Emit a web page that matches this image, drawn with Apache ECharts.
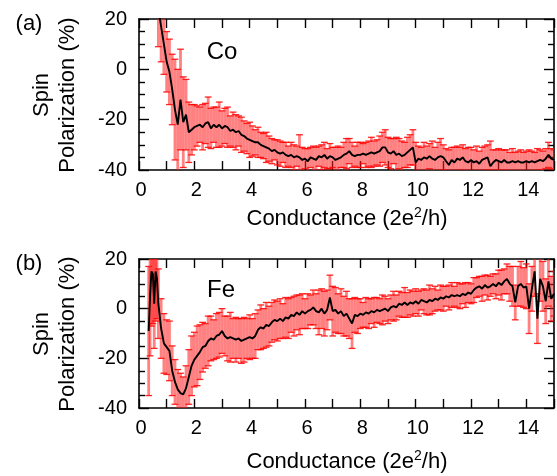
<!DOCTYPE html>
<html>
<head>
<meta charset="utf-8">
<script src="https://cdn.jsdelivr.net/npm/echarts@6/dist/echarts.min.js"></script>
<style>html,body{margin:0;padding:0;background:#fff}#c{width:557px;height:476px}</style>
</head>
<body>
<div id="c"></div>
<script>
// ---- Panel (a) Co ----
const coX = [
0.7,0.8,0.9,1.0,1.1,1.2,1.3,1.4,1.5,1.6,
1.7,1.8,1.9,2.0,2.1,2.2,2.3,2.4,2.5,2.6,
2.7,2.8,2.9,3.0,3.1,3.2,3.3,3.4,3.5,3.6,
3.7,3.8,3.9,4.0,4.1,4.2,4.3,4.4,4.5,4.6,
4.7,4.8,4.9,5.0,5.1,5.2,5.3,5.4,5.5,5.6,
5.7,5.8,5.9,6.0,6.1,6.2,6.3,6.4,6.5,6.6,
6.7,6.8,6.9,7.0,7.1,7.2,7.3,7.4,7.5,7.6,
7.7,7.8,7.9,8.0,8.1,8.2,8.3,8.4,8.5,8.6,
8.7,8.8,8.9,9.0,9.1,9.2,9.3,9.4,9.5,9.6,
9.7,9.8,9.9,10.0,10.1,10.2,10.3,10.4,10.5,10.6,
10.7,10.8,10.9,11.0,11.1,11.2,11.3,11.4,11.5,11.6,
11.7,11.8,11.9,12.0,12.1,12.2,12.3,12.4,12.5,12.6,
12.7,12.8,12.9,13.0,13.1,13.2,13.3,13.4,13.5,13.6,
13.7,13.8,13.9,14.0,14.1,14.2,14.3,14.4,14.5,14.6,
14.7,14.8,14.9,15.0];
const coPol = [
24,17,10,3,-1,-8,-16,-22,-12,-21,
-18,-25,-24,-23,-22.5,-22,-23,-21.5,-21,-23.5,
-22,-23,-22,-23.5,-22.5,-23,-24.5,-24,-25,-24.5,
-26,-26.5,-27.5,-28,-28.5,-29,-29,-30,-30.5,-31,
-31.5,-32.5,-32,-33,-33.5,-33,-34,-34.5,-34,-35,
-34.5,-35,-36,-35.5,-36.5,-35,-35.5,-36,-34.5,-35,
-34,-35.5,-34.5,-35,-36,-35.5,-35,-34,-33.5,-32.5,
-34,-34.5,-34,-34,-33.5,-34,-33.5,-33,-33.5,-33,
-32.5,-31,-31,-33,-33.5,-32.5,-34,-33.5,-34.5,-34,
-33,-32,-31,-37,-35.5,-36,-35,-35.5,-34.5,-35.5,
-36,-35,-34.5,-35,-36.5,-38,-36,-37,-35.5,-36,
-35,-36.5,-37,-36,-37,-36.5,-37.5,-36,-35.5,-35,
-38.5,-37,-36,-36.5,-37,-36,-37,-37,-36.5,-37,
-36.5,-37,-37,-36.5,-37,-36.5,-37,-36.5,-36,-36.5,
-35.5,-34,-35.5,-36];
const coErr = [
15,14,12,12,13,14,20,22,20,18,
14,12,10,9,8,7,9,8,10,8,
7,8,9,7,7,8,6,7,7,6,
7,6,6,7,6,5,6,5,5,6,
5,5,4,5,5,4,5,4,5,5,
4,9,5,4,5,4,5,5,4,5,
5,4,5,4,5,5,4,5,6,5,
5,4,5,5,4,5,5,6,5,5,
6,6,7,6,6,5,7,6,6,5,
6,6,7,8,5,5,6,5,5,7,
5,6,7,5,5,6,5,6,5,5,
5,5,6,5,5,6,5,5,5,5,
10,5,4,5,5,4,5,4,5,4,
4,5,4,4,5,4,4,5,4,4,
4,5,4,4];

// ---- Panel (b) Fe ----
const feX = [
0.35,0.4,0.45,0.5,0.55,0.6,0.65,0.7,0.8,0.9,
1.0,1.1,1.2,1.3,1.4,1.5,1.6,1.7,1.8,1.9,
2.0,2.1,2.2,2.3,2.4,2.5,2.6,2.7,2.8,2.9,
3.0,3.1,3.2,3.3,3.4,3.5,3.6,3.7,3.8,3.9,
4.0,4.1,4.2,4.3,4.4,4.5,4.6,4.7,4.8,4.9,
5.0,5.1,5.2,5.3,5.4,5.5,5.6,5.7,5.8,5.9,
6.0,6.1,6.2,6.3,6.4,6.5,6.6,6.7,6.8,6.9,
7.0,7.1,7.2,7.3,7.4,7.5,7.6,7.7,7.8,7.9,
8.0,8.1,8.2,8.3,8.4,8.5,8.6,8.7,8.8,8.9,
9.0,9.1,9.2,9.3,9.4,9.5,9.6,9.7,9.8,9.9,
10.0,10.1,10.2,10.3,10.4,10.5,10.6,10.7,10.8,10.9,
11.0,11.1,11.2,11.3,11.4,11.5,11.6,11.7,11.8,11.9,
12.0,12.1,12.2,12.3,12.4,12.5,12.6,12.7,12.8,12.9,
13.0,13.1,13.2,13.3,13.4,13.5,13.6,13.7,13.8,13.9,
14.0,14.1,14.2,14.3,14.4,14.5,14.6,14.7,14.8,14.9,
15.0];
const fePol = [
-9,5,15,14,2,15,12,2,-8,-14,
-15.5,-17,-25,-29.5,-32.5,-34,-34.5,-32,-27.5,-23,
-20.5,-19,-17.5,-15.5,-15,-13,-12,-12.5,-11,-10.5,
-9,-11,-12,-11.5,-12,-12.5,-12,-13,-12.5,-12,
-11.5,-12,-11,-8.5,-7.5,-8,-6.5,-7,-5.5,-4.5,
-5,-4,-5,-3.5,-4,-2.5,-3,-1.5,-2.5,-1,
-2,-1,-0.5,0.5,-1,-1.5,0,-2,-0.5,4.5,
-1,-0.5,-2,-1,-3,-2,-4,-6,-2.5,-3,
-2,-2.5,-1.5,-2,-1,-1.5,-0.5,-1,-0.5,0,
-1,0.5,1,0.5,2,1.5,2.5,1.5,2.5,2,
3,2,3.5,3,2.5,3.5,3,4,3.5,4.5,
4,5,4.5,5.5,5,5.5,5,6,5.5,6.5,
6,7.5,8.5,9,8,9.5,8.5,9,10,9,
10.5,9.5,11,12,10,9,2.5,9,10,8.5,
9,0,8,15,-4,12,9,3,11,4,
6];
const feErr = [
26,24,22,20,18,20,16,14,12,12,
11,12,10,9,8,8,7,9,11,12,
11,12,11,10,9,10,9,8,9,9,
9,8,9,10,8,9,8,9,9,8,
9,8,9,8,9,8,9,8,8,8,
8,8,7,8,8,7,8,7,8,7,
6,7,6,7,7,9,8,9,8,9,
10,9,8,9,8,9,8,10,7,7,
6,5,6,6,5,6,5,5,6,5,
5,5,6,5,5,5,6,5,5,5,
5,5,4,5,5,6,5,5,4,5,
5,4,5,5,4,5,5,4,5,4,
4,5,4,4,5,4,5,4,4,5,
5,6,5,6,7,8,7,8,9,8,
9,10,9,10,10,9,10,9,10,9,
9];

const xTicks = {min: 0, max: 15, interval: 1};
const yTicks = {min: -40, max: 20, interval: 20};

const FONT = '"Liberation Sans", Arial, Helvetica, sans-serif';
const chart = echarts.init(document.getElementById('c'), null, {renderer: 'canvas'});

function xAxisDef(gi, pos) {
  return {
    gridIndex: gi, type: 'value', position: pos,
    min: xTicks.min, max: xTicks.max, interval: xTicks.interval,
    axisLine: {show: true, onZero: false, lineStyle: {color: '#000', width: 1.6}},
    axisTick: {show: true, inside: true, length: 9, lineStyle: {color: '#000', width: 1.4}},
    axisLabel: {show: pos === 'bottom', fontSize: 20, color: '#000', fontFamily: FONT, margin: 10,
      padding: [0, 0, 0, 4],
      formatter: v => (v % 2 === 0 && v < 15) ? String(v) : ''},
    splitLine: {show: false}
  };
}
function yAxisDef(gi, pos) {
  return {
    gridIndex: gi, type: 'value', position: pos,
    min: yTicks.min, max: yTicks.max, interval: yTicks.interval,
    axisLine: {show: true, onZero: false, lineStyle: {color: '#000', width: 1.6}},
    axisTick: {show: true, inside: true, length: 10, lineStyle: {color: '#000', width: 1.4}},
    minorTick: {show: true, splitNumber: 4, length: 6, lineStyle: {color: '#000', width: 1.4}},
    axisLabel: {show: pos === 'left', fontSize: 20, color: '#000', fontFamily: FONT, margin: 12},
    splitLine: {show: false}, minorSplitLine: {show: false}
  };
}

function errData(xs, ys, es) {
  return xs.map((x, i) => [x, ys[i] - es[i], ys[i] + es[i]]);
}
function lineData(xs, ys) {
  return xs.map((x, i) => [x, ys[i]]);
}
function renderErr(params, api) {
  const x = api.value(0);
  const lo = api.coord([x, api.value(1)]);
  const hi = api.coord([x, api.value(2)]);
  const w = 3.4;
  return {
    type: 'group',
    children: [
      {type: 'line', shape: {x1: lo[0], y1: lo[1], x2: hi[0], y2: hi[1]},
        style: {stroke: 'rgba(255,25,25,0.55)', lineWidth: 2.8}},
      {type: 'line', shape: {x1: lo[0] - w, y1: lo[1], x2: lo[0] + w, y2: lo[1]},
        style: {stroke: 'rgba(255,0,0,0.85)', lineWidth: 1.3}},
      {type: 'line', shape: {x1: hi[0] - w, y1: hi[1], x2: hi[0] + w, y2: hi[1]},
        style: {stroke: 'rgba(255,0,0,0.85)', lineWidth: 1.3}}
    ]
  };
}

const titleRich = {
  a: {fontSize: 22, fontFamily: FONT, fill: '#000', lineHeight: 26},
  s: {fontSize: 14, fontFamily: FONT, fill: '#000', verticalAlign: 'top', lineHeight: 14}
};
function txt(x, y, text, size, rot) {
  return {type: 'text', x: x, y: y, rotation: rot || 0, silent: true,
    style: {text: text, fontSize: size, fontFamily: FONT, fill: '#000',
      textAlign: 'center', textVerticalAlign: 'middle', lineHeight: 26}};
}

chart.setOption({
  animation: false,
  backgroundColor: '#fff',
  grid: [
    {left: 139, top: 19, width: 417, height: 151},
    {left: 139, top: 259, width: 417, height: 149}
  ],
  xAxis: [xAxisDef(0, 'bottom'), xAxisDef(0, 'top'), xAxisDef(1, 'bottom'), xAxisDef(1, 'top')],
  yAxis: [yAxisDef(0, 'left'), yAxisDef(0, 'right'), yAxisDef(1, 'left'), yAxisDef(1, 'right')],
  series: [
    {type: 'custom', xAxisIndex: 0, yAxisIndex: 0, clip: true, z: 2,
      renderItem: renderErr, encode: {x: 0, y: [1, 2]}, data: errData(coX, coPol, coErr)},
    {type: 'line', xAxisIndex: 0, yAxisIndex: 0, clip: true, z: 3, showSymbol: false,
      lineStyle: {color: '#000', width: 1.9}, data: lineData(coX, coPol)},
    {type: 'custom', xAxisIndex: 2, yAxisIndex: 2, clip: true, z: 2,
      renderItem: renderErr, encode: {x: 0, y: [1, 2]}, data: errData(feX, fePol, feErr)},
    {type: 'line', xAxisIndex: 2, yAxisIndex: 2, clip: true, z: 3, showSymbol: false,
      lineStyle: {color: '#000', width: 1.9}, data: lineData(feX, fePol)}
  ],
  graphic: [
    txt(29, 24, '(a)', 22),
    txt(29, 264, '(b)', 22),
    txt(222, 52, 'Co', 24),
    txt(221, 290, 'Fe', 24),
    txt(55, 95, 'Spin\nPolarization (%)', 22, Math.PI / 2),
    txt(55, 334, 'Spin\nPolarization (%)', 22, Math.PI / 2),
    {type: 'text', x: 347, y: 219, silent: true,
      style: {text: '{a|Conductance (2e}{s|2}{a|/h)}', rich: titleRich, textAlign: 'center', textVerticalAlign: 'middle'}},
    {type: 'text', x: 347, y: 462, silent: true,
      style: {text: '{a|Conductance (2e}{s|2}{a|/h)}', rich: titleRich, textAlign: 'center', textVerticalAlign: 'middle'}}
  ]
});
</script>
</body>
</html>
